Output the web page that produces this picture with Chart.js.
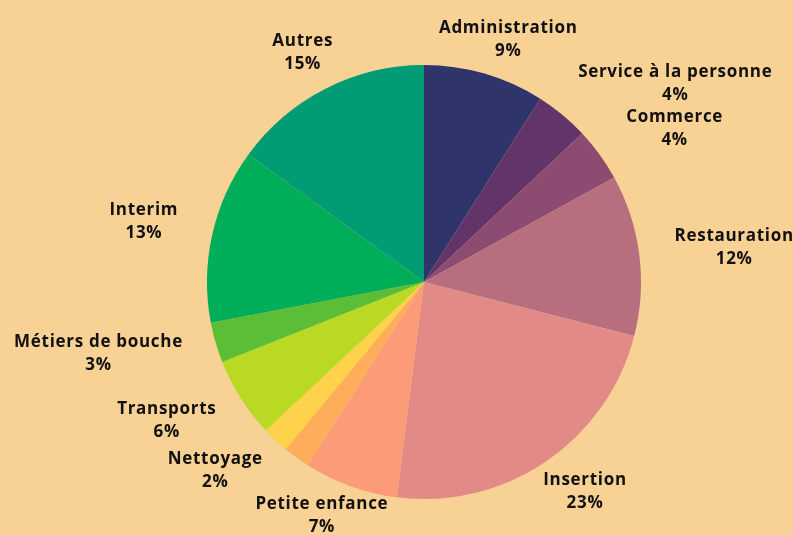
<!DOCTYPE html>
<html>
<head>
<meta charset="utf-8">
<script src="https://cdn.jsdelivr.net/npm/chart.js@4/dist/chart.umd.min.js"></script>
<style>
  html, body { margin: 0; padding: 0; background: #F8D194; }
  #wrap { width: 793px; height: 535px; }
</style>
</head>
<body>
<div id="wrap"><canvas id="c" width="793" height="535"></canvas></div>
<script>
// Categories (one small slice carries no visible label in the reference)
const categories = [
  "Administration", "Service à la personne", "Commerce", "Restauration",
  "Insertion", "Petite enfance", "", "Nettoyage", "Transports",
  "Métiers de bouche", "Interim", "Autres"
];
// Shares in percent
const shares = [9, 4, 4, 12, 23, 7, 2, 2, 6, 3, 13, 15];
// Slice colours
const sliceColors = [
  "#2F356B", "#62346A", "#8C4B71", "#B76E7F",
  "#E18A88", "#FC9B77", "#FEAE5B", "#FED24A", "#B9D925",
  "#5BBE36", "#00AD59", "#019C74"
];

const FONT = "700 17px 'Open Sans', 'DejaVu Sans', sans-serif";
const LETTER_SPACING = '0.7px';
const LINE_H = 23;

const labelPlugin = {
  id: 'outerLabels',
  afterDatasetsDraw(chart) {
    const ctx = chart.ctx;
    const meta = chart.getDatasetMeta(0);
    ctx.save();
    ctx.font = FONT;
    if ('letterSpacing' in ctx) ctx.letterSpacing = LETTER_SPACING;
    ctx.fillStyle = '#111111';
    ctx.textAlign = 'center';
    ctx.textBaseline = 'middle';
    const items = [];
    meta.data.forEach((arc, i) => {
      if (!categories[i]) return;
      const p = arc.getProps(['x', 'y', 'startAngle', 'endAngle', 'outerRadius'], true);
      const mid = (p.startAngle + p.endAngle) / 2;
      let theta = mid + Math.PI / 2;
      theta = ((theta % (2 * Math.PI)) + 2 * Math.PI) % (2 * Math.PI);
      const l1 = categories[i];
      const l2 = shares[i] + '%';
      const w = Math.max(ctx.measureText(l1).width, ctx.measureText(l2).width);
      const h = 2 * LINE_H - 2;
      items.push({ theta, l1, l2, w, h, cx: p.x, cy: p.y, R: p.outerRadius });
    });
    function place(it, theta) {
      const vx = Math.sin(theta), vy = -Math.cos(theta);
      const m = Math.max(Math.abs(vx), Math.abs(vy));
      const d = it.R + 36 - 25 * vy * vy;
      const x = it.cx + d * vx + (it.w / 2) * vx / m;
      let y = it.cy + d * vy + (it.h / 2) * vy / m;
      if (vy > 0) y -= 16 * vy * Math.abs(vx);
      return { x, y, x0: x - it.w / 2, x1: x + it.w / 2, y0: y - it.h / 2, y1: y + it.h / 2 };
    }
    const overlaps = (a, b) => a.x0 < b.x1 && a.x1 > b.x0 && a.y0 < b.y1 && a.y1 > b.y0;
    items.sort((a, b) => a.theta - b.theta);
    const placed = [];
    items.forEach(it => {
      let t = it.theta;
      let box = place(it, t);
      let guard = 0;
      while (placed.some(b => overlaps(box, b)) && guard < 400) {
        t += 0.004;
        box = place(it, t);
        guard++;
      }
      placed.push(box);
      ctx.fillText(it.l1, box.x, box.y - LINE_H / 2);
      ctx.fillText(it.l2, box.x, box.y + LINE_H / 2);
    });
    ctx.restore();
  }
};

new Chart(document.getElementById('c'), {
  type: 'pie',
  data: {
    labels: categories,
    datasets: [{
      data: shares,
      backgroundColor: sliceColors,
      borderWidth: 0
    }]
  },
  options: {
    responsive: false,
    animation: false,
    layout: { padding: { left: 207, right: 152, top: 65, bottom: 36 } },
    plugins: {
      legend: { display: false },
      tooltip: { enabled: false }
    }
  },
  plugins: [labelPlugin]
});
</script>
</body>
</html>
